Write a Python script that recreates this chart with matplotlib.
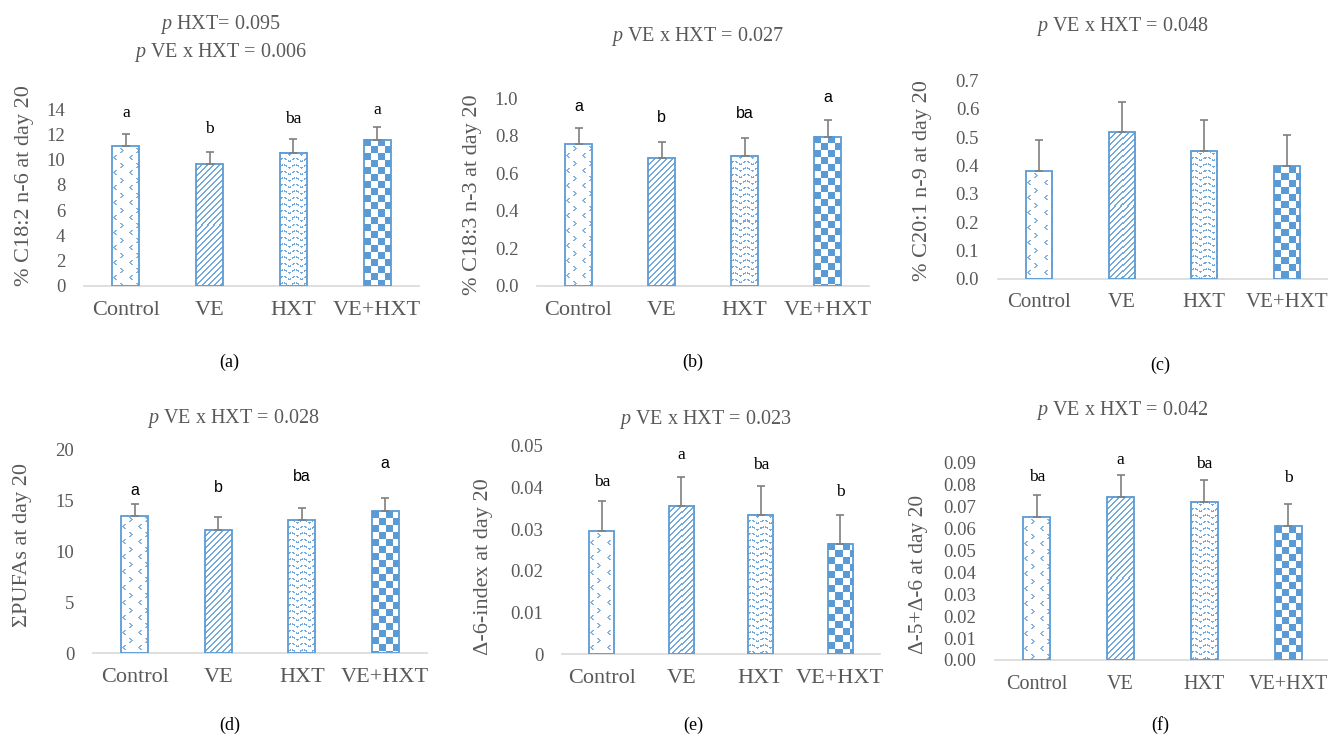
import numpy as np
import matplotlib
matplotlib.use('Agg')
import matplotlib.pyplot as plt
from matplotlib.colors import to_rgb

W, H = 1328, 737
DPI = 100
BLUE = '#5b9bd5'
GREY = '#595959'
SERIF = ['Liberation Serif', 'DejaVu Serif']
SANS = ['Liberation Sans', 'DejaVu Sans']

plt.rcParams['font.family'] = SERIF
plt.rcParams['mathtext.fontset'] = 'custom'
plt.rcParams['mathtext.rm'] = 'Liberation Serif'
plt.rcParams['mathtext.it'] = 'Liberation Serif:italic'

groups = ['Control', 'VE', 'HXT', 'VE+HXT']

c182_mean = [11.07, 9.65, 10.55, 11.57]
c182_sd = [0.93, 0.95, 1.05, 1.03]
c182_letters = ['a', 'b', 'ba', 'a']

c183_mean = [0.755, 0.680, 0.694, 0.794]
c183_sd = [0.088, 0.087, 0.093, 0.092]
c183_letters = ['a', 'b', 'ba', 'a']

c201_mean = [0.381, 0.517, 0.450, 0.398]
c201_sd = [0.110, 0.107, 0.112, 0.110]

pufa_mean = [13.5, 12.12, 13.07, 13.96]
pufa_sd = [1.15, 1.28, 1.23, 1.28]
pufa_letters = ['a', 'b', 'ba', 'a']

d6_mean = [0.0295, 0.0357, 0.0334, 0.0265]
d6_sd = [0.0072, 0.0069, 0.0070, 0.0069]
d6_letters = ['ba', 'a', 'ba', 'b']

d56_mean = [0.0651, 0.0745, 0.0719, 0.0610]
d56_sd = [0.0100, 0.0100, 0.0102, 0.0100]
d56_letters = ['ba', 'a', 'ba', 'b']

patterns = ['chev', 'diag', 'wave', 'check']


def texture(kind, w, h):
    img = np.ones((h, w, 3))
    yy, xx = np.mgrid[0:h, 0:w]
    col = np.array(to_rgb(BLUE))
    if kind == 'check':
        mask = ((xx // 7) + (yy // 7)) % 2 == 0
        amt = 1.0
    elif kind == 'diag':
        mask = ((xx + yy) % 6) < 2
        amt = 0.85
    elif kind == 'wave':
        d = (yy + 1.6 * np.sin(2 * np.pi * xx / 12.0)) % 6.5
        mask = (d < 1.5) & ((xx % 4) != 3)
        amt = 0.85
    else:
        tx = xx % 16
        ty = yy % 15
        mask = np.zeros_like(xx, dtype=bool)
        # ">" chevrons
        for dx, dy in [(0, 0), (1, 1), (2, 2), (1, 3), (0, 4),
                       (1, 0), (2, 1), (3, 2), (2, 3), (1, 4)]:
            mask |= (tx == 8 + dx) & (ty == 2 + dy)
        # "<" chevrons
        for dx, dy in [(2, 0), (1, 1), (0, 2), (1, 3), (2, 4),
                       (3, 0), (2, 1), (1, 2), (2, 3), (3, 4)]:
            mask |= (tx == 1 + dx) & (ty == 9 + dy)
        amt = 0.75
    img[mask] = 1 - amt * (1 - col)
    return img


def px_ax(left, right, y0, ytop):
    return [left / W, 1 - y0 / H, (right - left) / W, (y0 - ytop) / H]


fig = plt.figure(figsize=(W / DPI, H / DPI), dpi=DPI)


def panel(box, means, sds, ymax, yticks, ytick_fmt, ylabel, ylab_xy,
          title_lines, title_xy, sub, sub_xy, letters=None, letter_off=None,
          letter_font=SERIF, bar_w=0.32, xl_size=16, yl_size=16):
    ax = fig.add_axes(px_ax(*box))
    x = np.arange(len(groups))
    bars = ax.bar(x, means, bar_w, facecolor='none', edgecolor=BLUE,
                  linewidth=1.3, zorder=3)
    ax.set_xlim(-0.5, 3.5)
    ax.set_ylim(0, ymax)
    for b, kind in zip(bars, patterns):
        x0, x1 = b.get_x(), b.get_x() + b.get_width()
        p0 = ax.transData.transform((x0, 0))
        p1 = ax.transData.transform((x1, b.get_height()))
        w = max(int(round(p1[0] - p0[0])), 1)
        h = max(int(round(p1[1] - p0[1])), 1)
        ax.imshow(texture(kind, w, h), extent=(x0, x1, 0, b.get_height()),
                  aspect='auto', interpolation='nearest', zorder=2,
                  clip_path=b)
    ax.errorbar(x, means, yerr=[np.zeros(len(sds)), sds], fmt='none',
                ecolor='#7f7f7f', elinewidth=1.2, capsize=3, capthick=1.2,
                zorder=4)
    ax.set_xlim(-0.5, 3.5)
    ax.set_ylim(0, ymax)
    ax.set_aspect('auto')
    for s in ['top', 'right', 'left']:
        ax.spines[s].set_visible(False)
    ax.spines['bottom'].set_color('#d9d9d9')
    ax.spines['bottom'].set_linewidth(1.2)
    ax.set_xticks(x)
    ax.set_xticklabels(groups, fontsize=xl_size, color=GREY)
    ax.set_yticks(yticks)
    ax.set_yticklabels([ytick_fmt.format(v) for v in yticks], fontsize=13.5,
                       color=GREY)
    ax.tick_params(axis='both', length=0)
    ax.tick_params(axis='y', pad=13.5)
    ax.tick_params(axis='x', pad=10.5)
    ax.set_facecolor('none')

    fig.text(ylab_xy[0] / W, 1 - ylab_xy[1] / H, ylabel, rotation=90,
             ha='center', va='center', fontsize=yl_size, color=GREY)
    for i, line in enumerate(title_lines):
        fig.text(title_xy[0] / W, 1 - (title_xy[1] + 27 * i) / H, line,
                 ha='center', va='center', fontsize=14.5, color=GREY)
    fig.text(sub_xy[0] / W, 1 - sub_xy[1] / H, sub, ha='center',
             va='center', fontsize=13, color='black')

    if letters:
        lsize = 11.5 if letter_font == SANS else 12.5
        for xi, m, s, lt, off in zip(x, means, sds, letters, letter_off):
            ax.annotate(lt, (xi, m + s), xytext=(0, off * 72 / DPI),
                        textcoords='offset points', ha='center',
                        va='center', fontsize=lsize, color='black',
                        family=letter_font, annotation_clip=False)
    return ax


panel((84, 419, 286, 109), c182_mean, c182_sd, 14, np.arange(0, 15, 2),
      '{:.0f}', '% C18:2 n-6 at day 20', (25, 186),
      [r'$\it{p}$ HXT= 0.095', r'$\it{p}$ VE x HXT = 0.006'], (220, 25),
      '(a)', (229, 362), c182_letters, [21, 23, 20, 17])

panel((537, 869, 286, 98.3), c183_mean, c183_sd, 1.0,
      np.round(np.arange(0, 1.01, 0.2), 1), '{:.1f}',
      '% C18:3 n-3 at day 20', (472, 195),
      [r'$\it{p}$ VE x HXT = 0.027'], (697, 37),
      '(b)', (693, 362), c183_letters, [21, 25, 25, 22], letter_font=SANS)

panel((998, 1328, 278.7, 80.7), c201_mean, c201_sd, 0.7,
      np.round(np.arange(0, 0.71, 0.1), 1), '{:.1f}',
      '% C20:1 n-9 at day 20', (922, 181),
      [r'$\it{p}$ VE x HXT = 0.048'], (1122, 26),
      '(c)', (1160, 365), xl_size=15)

panel((93, 427, 653.3, 450), pufa_mean, pufa_sd, 20, np.arange(0, 21, 5),
      '{:.0f}', 'ΣPUFAs at day 20', (23, 545),
      [r'$\it{p}$ VE x HXT = 0.028'], (233, 418),
      '(d)', (230, 725), pufa_letters, [14, 30, 31, 35], letter_font=SANS)

panel((562, 880, 654.3, 446), d6_mean, d6_sd, 0.05,
      [0, 0.01, 0.02, 0.03, 0.04, 0.05], '{:g}',
      'Δ-6-index at day 20', (483, 567),
      [r'$\it{p}$ VE x HXT = 0.023'], (705, 420),
      '(e)', (693, 725), d6_letters, [19, 22, 21, 23])

panel((995, 1330, 660, 462.7), d56_mean, d56_sd, 0.09,
      np.round(np.arange(0, 0.091, 0.01), 2), '{:.2f}',
      'Δ-5+Δ-6 at day 20', (918, 574),
      [r'$\it{p}$ VE x HXT = 0.042'], (1122, 411),
      '(f)', (1160, 725), d56_letters, [18, 15, 16, 26],
      xl_size=14.5, yl_size=15.4)

fig.savefig('out.png', dpi=DPI, facecolor='white')
